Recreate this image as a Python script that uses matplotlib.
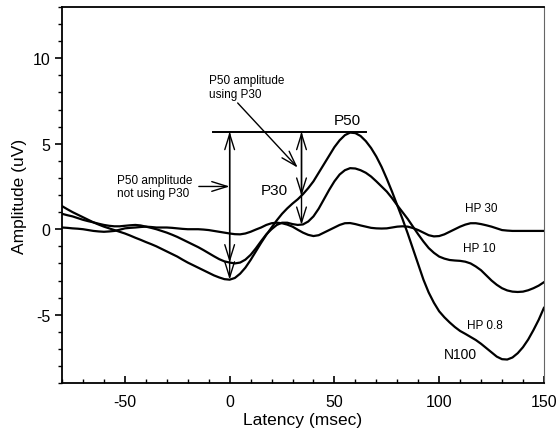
import numpy as np
import matplotlib
matplotlib.use("Agg")
import matplotlib.pyplot as plt
from matplotlib.ticker import MultipleLocator

plt.rcParams['font.family'] = ['Liberation Sans', 'DejaVu Sans']
plt.rcParams['axes.unicode_minus'] = False

# latency (msec), one sample every 2.5 msec from -80 to 150
t = np.arange(-80, 150.1, 2.5)

hp08 = [1.35, 1.17, 1.0, 0.85, 0.7, 0.55, 0.4, 0.27, 0.15, 0.05,
        -0.05, -0.15, -0.25, -0.37, -0.5, -0.62, -0.75, -0.87, -1.0, -1.15,
        -1.3, -1.45, -1.6, -1.78, -1.95, -2.1, -2.25, -2.4, -2.55, -2.7,
        -2.82, -2.92, -2.95, -2.85, -2.6, -2.25, -1.8, -1.3, -0.8, -0.33,
        0.1, 0.52, 0.9, 1.22, 1.5, 1.75, 2.05, 2.4, 2.8, 3.3,
        3.8, 4.3, 4.8, 5.2, 5.5, 5.65, 5.62, 5.45, 5.15, 4.75,
        4.25, 3.65, 2.95, 2.2, 1.4, 0.6, -0.25, -1.15, -2.05, -2.95,
        -3.7, -4.3, -4.8, -5.15, -5.45, -5.72, -5.95, -6.12, -6.3, -6.48,
        -6.7, -6.95, -7.2, -7.45, -7.6, -7.62, -7.5, -7.25, -6.9, -6.45,
        -5.9, -5.3, -4.6]
hp10 = [0.9, 0.82, 0.75, 0.65, 0.55, 0.47, 0.4, 0.32, 0.25, 0.2,
        0.17, 0.17, 0.2, 0.23, 0.25, 0.22, 0.15, 0.08, 0.0, -0.1,
        -0.2, -0.32, -0.45, -0.6, -0.75, -0.9, -1.05, -1.22, -1.4, -1.58,
        -1.75, -1.88, -1.95, -2.0, -1.95, -1.78, -1.5, -1.12, -0.7, -0.3,
        0.0, 0.25, 0.38, 0.38, 0.3, 0.25, 0.28, 0.45, 0.75, 1.2,
        1.75, 2.3, 2.8, 3.2, 3.45, 3.57, 3.55, 3.45, 3.3, 3.08,
        2.8, 2.5, 2.2, 1.82, 1.4, 1.0, 0.6, 0.15, -0.3, -0.72,
        -1.1, -1.38, -1.6, -1.72, -1.8, -1.83, -1.85, -1.9, -2.0, -2.18,
        -2.4, -2.7, -3.0, -3.25, -3.45, -3.58, -3.65, -3.67, -3.65, -3.57,
        -3.45, -3.3, -3.1]
hp30 = [0.1, 0.08, 0.05, 0.03, 0.0, -0.05, -0.1, -0.13, -0.15, -0.13,
        -0.1, -0.03, 0.05, 0.08, 0.1, 0.13, 0.15, 0.13, 0.1, 0.1,
        0.1, 0.08, 0.05, 0.02, 0.0, 0.0, 0.0, -0.02, -0.05, -0.1,
        -0.15, -0.2, -0.25, -0.29, -0.3, -0.25, -0.15, -0.02, 0.1, 0.25,
        0.35, 0.38, 0.35, 0.27, 0.15, -0.03, -0.2, -0.33, -0.4, -0.35,
        -0.2, -0.05, 0.1, 0.25, 0.35, 0.36, 0.3, 0.22, 0.15, 0.08,
        0.05, 0.04, 0.05, 0.1, 0.15, 0.17, 0.15, 0.07, -0.05, -0.2,
        -0.35, -0.42, -0.4, -0.3, -0.15, 0.0, 0.15, 0.27, 0.35, 0.35,
        0.3, 0.23, 0.15, 0.05, -0.05, -0.08, -0.1, -0.1, -0.1, -0.1,
        -0.1, -0.1, -0.1]

p50 = 5.7
p30_lat = 34.3

fig = plt.figure(figsize=(5.59, 4.39), dpi=100)
ax = fig.add_axes([0.111, 0.125, 0.862, 0.857])

for y in (hp08, hp10, hp30):
    ax.plot(t, y, color='black', lw=1.6, solid_joinstyle='round')

# P50 reference level
ax.plot([-8, 65], [p50, p50], color='black', lw=1.4)

head = '->,head_length=0.8,head_width=0.25'
dhead = '<->,head_length=0.8,head_width=0.25'
arr = dict(arrowstyle=head, color='black', lw=1.0, mutation_scale=14, shrinkA=0, shrinkB=0)
dbl = dict(arrowstyle=dhead, color='black', lw=1.0, mutation_scale=14, shrinkA=0, shrinkB=0)
ax.annotate('', xy=(0, -2.95), xytext=(0, p50), arrowprops=dbl)
ax.annotate('', xy=(0, -1.95), xytext=(0, p50), arrowprops=arr)
ax.annotate('', xy=(p30_lat, 0.25), xytext=(p30_lat, p50), arrowprops=dbl)
ax.annotate('', xy=(p30_lat, 1.95), xytext=(p30_lat, p50), arrowprops=arr)

ax.annotate('P50 amplitude\nnot using P30', xy=(0, 2.5), xytext=(-54, 2.5),
            fontsize=8.5, va='center', ha='left',
            arrowprops=dict(arrowstyle=head, color='black', lw=1.0, mutation_scale=14,
                            shrinkA=3, shrinkB=0, relpos=(1.0, 0.5)))
ax.annotate('P50 amplitude\nusing P30', xy=(32.5, 3.6), xytext=(-10, 8.3),
            fontsize=8.5, va='center', ha='left',
            arrowprops=dict(arrowstyle=head, color='black', lw=1.0, mutation_scale=14,
                            shrinkA=0, shrinkB=0, relpos=(0.35, 0.0)))

ax.text(56, 6.4, 'P50', fontsize=11, ha='center', va='center')
ax.text(21.5, 2.3, 'P30', fontsize=11, ha='center', va='center')
ax.text(120, 1.25, 'HP 30', fontsize=8.5, ha='center', va='center')
ax.text(119, -1.1, 'HP 10', fontsize=8.5, ha='center', va='center')
ax.text(122, -5.6, 'HP 0.8', fontsize=8.5, ha='center', va='center')
ax.text(110, -7.3, 'N100', fontsize=10, ha='center', va='center')

ax.set_xlim(-80, 150)
ax.set_ylim(-9, 13)
ax.xaxis.set_major_locator(MultipleLocator(50))
ax.xaxis.set_minor_locator(MultipleLocator(10))
ax.yaxis.set_major_locator(MultipleLocator(5))
ax.yaxis.set_minor_locator(MultipleLocator(1))
ax.tick_params(axis='x', which='both', direction='in', labelsize=11.5, pad=8)
ax.tick_params(axis='y', which='both', direction='out', labelsize=11.5)
ax.tick_params(which='major', length=5, width=1.2)
ax.tick_params(which='minor', length=3, width=1.0)
for s in ax.spines.values():
    s.set_linewidth(1.3)
ax.spines['right'].set_linewidth(0.8)
ax.spines['right'].set_color('0.4')

ax.set_xlabel('Latency (msec)', fontsize=12.5, labelpad=2)
ax.set_ylabel('Amplitude (uV)', fontsize=12.5, labelpad=4)

fig.savefig('out.png', dpi=100)
